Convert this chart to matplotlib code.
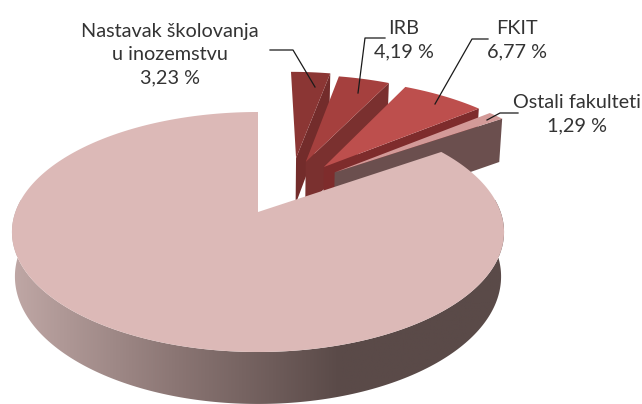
import matplotlib
matplotlib.use("Agg")
import matplotlib.pyplot as plt
import numpy as np
from matplotlib.colors import LinearSegmentedColormap
from matplotlib.patches import Polygon

# shares in percent, clockwise from twelve o'clock
labels = ["Nastavak školovanja\nu inozemstvu\n3,23 %", "IRB\n4,19 %", "FKIT\n6,77 %", "Ostali fakulteti\n1,29 %"]
shares = [3.23, 4.19, 6.77, 1.29]
rest_share = 84.52

top_colors = ["#8b3634", "#a5403e", "#bd4f4d", "#d39a98"]
wall_colors = ["#732c2b", "#7a302f", "#7e2c2c", "#6b4f4e"]
rest_color = "#dcb9b7"

# how far each slice is pulled out of the pie (in units of the radius)
pull = [(0.17, 0.502), (0.212, 0.462), (0.29, 0.412), (0.335, 0.36)]

plt.rcParams['font.family'] = ['Lato', 'DejaVu Sans']

X0, Y0 = 258, 212
A, B, P = 242.6, 116.67, 1 / 6


def project(u, v, depth=0):
    # tilted disc seen in perspective, y in pixels going down
    w = 1 + P * v
    shrink = 1 - 0.012 * (depth > 0)
    return X0 + shrink * A * u / w, Y0 - B * v / w + depth / w


def arc(t0, t1, n=120):
    t = np.radians(np.linspace(t0, t1, n))
    return np.sin(t), np.cos(t)


fig = plt.figure(figsize=(6.42, 4.04), dpi=100)
ax = fig.add_axes([0, 0, 1, 1])
ax.set_xlim(0, 642)
ax.set_ylim(404, 0)
ax.axis("off")

edges = np.concatenate([[0], np.cumsum(shares)]) * 3.6

# pulled out slices, back to front
for i in range(len(shares)):
    du, dv = pull[i]
    u, v = arc(edges[i], edges[i + 1], 30)
    xt, yt = project(u + du, v + dv)
    ax_apex = project(du, dv)
    # the cut wall on the clockwise side
    xb0, yb0 = project(du, dv, 50)
    xb1, yb1 = project(u[-1] + du, v[-1] + dv, 50)
    wall = [ax_apex, (xt[-1], yt[-1]), (xb1, yb1), (xb0, yb0)]
    ax.add_patch(Polygon(wall, closed=True, fc=wall_colors[i], ec="none", zorder=2 + i))
    top = np.column_stack([np.r_[ax_apex[0], xt], np.r_[ax_apex[1], yt]])
    ax.add_patch(Polygon(top, closed=True, fc=top_colors[i], ec="none", zorder=2 + i))

# big slice: side wall with a gradient, then the top
gap = sum(shares) * 3.6
end = gap + rest_share * 3.6
u, v = arc(80, 280, 200)
xt, yt = project(u, v)
xb, yb = project(u, v, 43.3)
wall_poly = Polygon(np.column_stack([np.r_[xt, xb[::-1]], np.r_[yt, yb[::-1]]]), closed=True, fc="none", ec="none", zorder=10)
ax.add_patch(wall_poly)
cmap = LinearSegmentedColormap.from_list("wall", ["#c0a8a6", "#8b7674", "#5a4a48", "#5a4a48"])
im = ax.imshow(np.linspace(0, 1, 256)[None, :], extent=(10, 505, 404, 200), cmap=cmap, aspect="auto", zorder=10)
im.set_clip_path(wall_poly)
ax.set_xlim(0, 642)
ax.set_ylim(404, 0)

u, v = arc(gap, end, 300)
xt, yt = project(u, v)
apex = project(0, 0)
ax.add_patch(Polygon(np.column_stack([np.r_[apex[0], xt], np.r_[apex[1], yt]]), closed=True, fc=rest_color, ec="none", zorder=11))

# leader lines
leaders = [
    ([270, 293, 315], [50, 50, 87]),
    ([385, 365, 358], [38, 38, 93]),
    ([488, 472, 435], [39, 39, 104]),
    ([518, 500, 487], [113, 113, 120]),
]
for lx, ly in leaders:
    ax.plot(lx, ly, color="#1a1a1a", lw=0.9, zorder=12)

text_x = [170, 404, 517, 577]
text_y = [55, 40, 40, 114]
for s, tx, ty in zip(labels, text_x, text_y):
    ax.text(tx, ty, s, ha="center", va="center", fontsize=14.3, color="#333333", linespacing=1.45, zorder=13)

fig.savefig("out.png", dpi=100)
